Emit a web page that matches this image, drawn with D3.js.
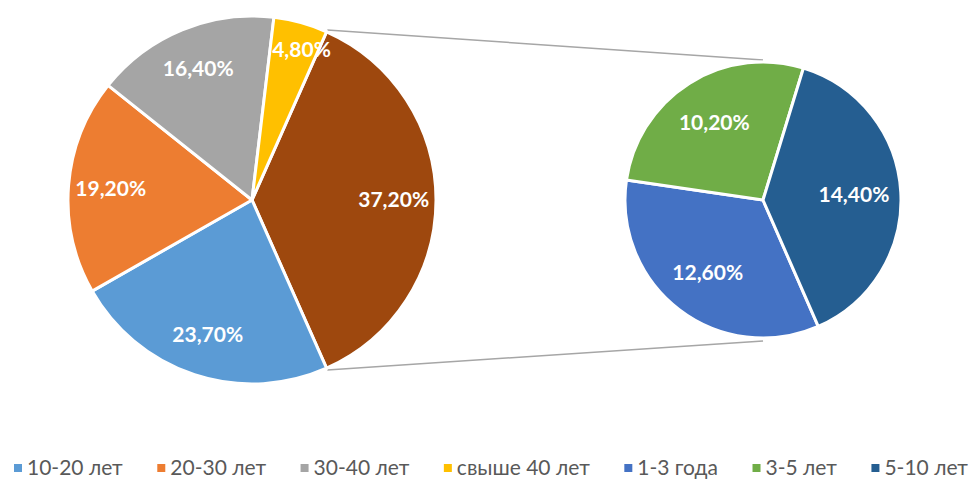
<!DOCTYPE html>
<meta charset="utf-8">
<script src="https://d3js.org/d3.v7.min.js"></script>
<style>
  body { margin: 0; background: #fff; }
  text { font-family: Lato, "Open Sans", sans-serif; }
</style>
<div id="chart"></div>
<script>

// main pie categories (the rest is split into the second pie)
var mainCats = ["10-20 лет", "20-30 лет", "30-40 лет", "свыше 40 лет"];
var mainVals = [23.7, 19.2, 16.4, 4.8];
var mainColors = ["#5B9BD5", "#ED7D31", "#A5A5A5", "#FFC000"];

// second pie
var subCats = ["1-3 года", "3-5 лет", "5-10 лет"];
var subVals = [12.6, 10.2, 14.4];
var subColors = ["#4472C4", "#70AD47", "#255E91"];

var otherColor = "#9E480E";

var width = 971, height = 480;

var svg = d3.select("#chart")
  .append("svg")
    .attr("width", width)
    .attr("height", height);

var fmt = function(v) { return d3.format(".2f")(v).replace(".", ",") + "%"; };

// main pie: "other" slice first, centred on the right side
var otherVal = d3.sum(subVals);
var mainData = [{cat: "other", val: otherVal, color: otherColor}]
  .concat(mainCats.map(function(c, i) { return {cat: c, val: mainVals[i], color: mainColors[i]}; }));

var total = d3.sum(mainData, function(d) { return d.val; });
var start = Math.PI / 2 - Math.PI * otherVal / total;

var cx1 = 252, cy1 = 200, r1 = 184;
var cx2 = 763, cy2 = 200, r2 = 138;

var pie1 = d3.pie().sort(null).value(function(d) { return d.val; })
  .startAngle(start).endAngle(start + 2 * Math.PI);
var arcs1 = pie1(mainData);

var arc1 = d3.arc().innerRadius(0).outerRadius(r1);

// connector lines from the "other" slice to the second pie
var oth = arcs1[0];
var pt = function(a, r) { return [Math.sin(a) * r, -Math.cos(a) * r]; };
var pTop = pt(oth.startAngle, r1 + 2), pBot = pt(oth.endAngle, r1 + 2);

svg.append("line")
  .attr("x1", cx1 + pTop[0]).attr("y1", cy1 + pTop[1])
  .attr("x2", cx2).attr("y2", cy2 - r2 - 2)
  .style("stroke", "#a6a6a6").style("stroke-width", 1.5);
svg.append("line")
  .attr("x1", cx1 + pBot[0]).attr("y1", cy1 + pBot[1])
  .attr("x2", cx2).attr("y2", cy2 + r2 + 3)
  .style("stroke", "#a6a6a6").style("stroke-width", 1.5);

var g1 = svg.append("g").attr("transform", "translate(" + cx1 + "," + cy1 + ")");

g1.selectAll("path")
  .data(arcs1)
  .enter()
  .append("path")
    .attr("d", arc1)
    .style("fill", function(d) { return d.data.color; })
    .style("stroke", "#fff")
    .style("stroke-width", 3)
    .style("stroke-linejoin", "round");

g1.selectAll("text")
  .data(arcs1)
  .enter()
  .append("text")
    .attr("transform", function(d) {
      var a = (d.startAngle + d.endAngle) / 2;
      var narrow = (d.endAngle - d.startAngle) < 0.4; // narrow slice label sits further out
      var p = pt(narrow ? a + 0.05 : a, r1 * (narrow ? 0.86 : 0.77));
      return "translate(" + p[0] + "," + p[1] + ")";
    })
    .attr("text-anchor", "middle")
    .attr("dy", "0.35em")
    .style("fill", "#fff")
    .style("font-weight", "bold")
    .style("font-size", "21px")
    .text(function(d) { return fmt(d.data.val); });

// second pie
var subData = subCats.map(function(c, i) { return {cat: c, val: subVals[i], color: subColors[i]}; });
var start2 = 156.4 * Math.PI / 180;
var pie2 = d3.pie().sort(null).value(function(d) { return d.val; })
  .startAngle(start2).endAngle(start2 + 2 * Math.PI);
var arcs2 = pie2(subData);
var arc2 = d3.arc().innerRadius(0).outerRadius(r2);

var g2 = svg.append("g").attr("transform", "translate(" + cx2 + "," + cy2 + ")");

g2.selectAll("path")
  .data(arcs2)
  .enter()
  .append("path")
    .attr("d", arc2)
    .style("fill", function(d) { return d.data.color; })
    .style("stroke", "#fff")
    .style("stroke-width", 3)
    .style("stroke-linejoin", "round");

g2.selectAll("text")
  .data(arcs2)
  .enter()
  .append("text")
    .attr("transform", function(d) {
      var p = pt((d.startAngle + d.endAngle) / 2, r2 * 0.66);
      return "translate(" + p[0] + "," + p[1] + ")";
    })
    .attr("text-anchor", "middle")
    .attr("dy", "0.35em")
    .style("fill", "#fff")
    .style("font-weight", "bold")
    .style("font-size", "21px")
    .text(function(d) { return fmt(d.data.val); });

// legend, spread across the bottom
var legendItems = mainCats.map(function(c, i) { return {cat: c, color: mainColors[i]}; })
  .concat(subCats.map(function(c, i) { return {cat: c, color: subColors[i]}; }));

var legend = svg.append("g").attr("transform", "translate(0,468)");

var items = legend.selectAll("g")
  .data(legendItems)
  .enter()
  .append("g");

items.append("rect")
  .attr("x", 0).attr("y", -4)
  .attr("width", 8).attr("height", 8)
  .style("fill", function(d) { return d.color; });

items.append("text")
  .attr("x", 13)
  .attr("dy", "0.35em")
  .style("fill", "#595959")
  .style("font-size", "21px")
  .text(function(d) { return d.cat; });

var widths = [];
items.each(function() { widths.push(13 + d3.select(this).select("text").node().getComputedTextLength()); });
var left = 14, right = 968;
var gap = (right - left - d3.sum(widths)) / (widths.length - 1);
var xpos = left;
items.attr("transform", function(d, i) {
  var t = "translate(" + xpos + ",0)";
  xpos += widths[i] + gap;
  return t;
});

</script>
